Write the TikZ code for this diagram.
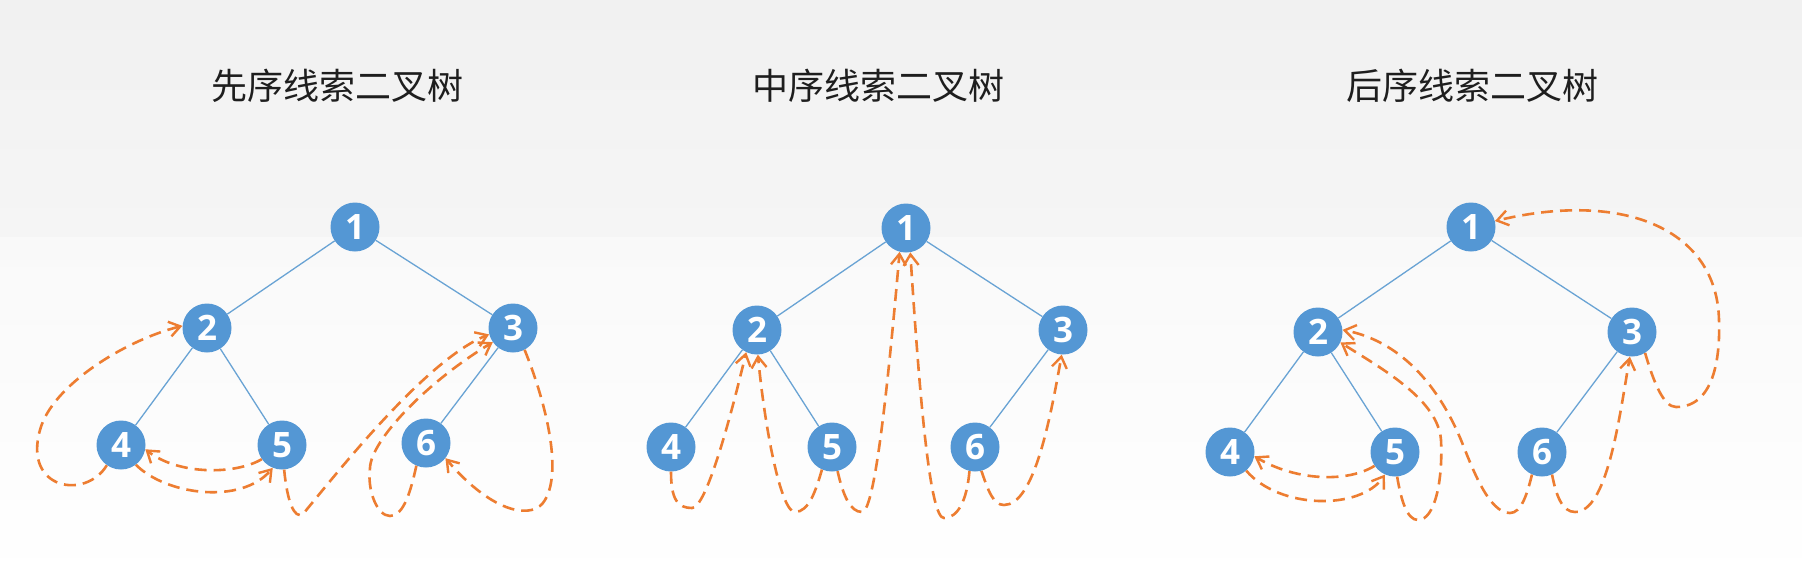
\documentclass[tikz,border=0pt]{standalone}
\usepackage{fontspec}
\newfontfamily\cjk{Noto Sans CJK SC}
\newfontfamily\numfont{Open Sans}
\usetikzlibrary{arrows.meta}
\definecolor{nodeblue}{RGB}{84,151,212}
\definecolor{treeline}{RGB}{105,163,212}
\definecolor{thread}{RGB}{237,125,49}
\definecolor{titlecol}{RGB}{30,30,30}
\definecolor{bgtop}{RGB}{241,241,241}
\definecolor{bgmid}{RGB}{245,245,245}
\definecolor{bglow}{RGB}{249,249,249}
\tikzset{
  tnode/.style={circle, fill=nodeblue, minimum size=49pt, inner sep=0pt,
    text=white, font=\numfont\bfseries\fontsize{35}{35}\selectfont},
  tedge/.style={draw=treeline, line width=1.3pt},
  thr/.style={draw=thread, line width=2.6pt, dash pattern=on 12pt off 7pt,
    -{Straight Barb[length=11pt,width=15pt,line width=2.4pt]}},
  ttl/.style={text=titlecol, font=\cjk\fontsize{36}{36}\selectfont, inner sep=0pt}
}
\begin{document}
\begin{tikzpicture}[x=1pt,y=-1pt]
\useasboundingbox (0,0) rectangle (1802,587);
\shade[top color=bgtop, bottom color=bgmid] (0,0) rectangle (1802,237);
\shade[top color=bglow, bottom color=white] (0,237) rectangle (1802,587);

% titles
\node[ttl] (t1) at (337,86) {先序线索二叉树};
\node[ttl] (t2) at (878,86) {中序线索二叉树};
\node[ttl] (t3) at (1472,86) {后序线索二叉树};

% ---------- panel 1: preorder ----------
\node[tnode] (a1) at (355,227) {1};
\node[tnode] (a2) at (207,328) {2};
\node[tnode] (a3) at (513,328) {3};
\node[tnode] (a4) at (121,445) {4};
\node[tnode] (a5) at (282,445) {5};
\node[tnode] (a6) at (426,443) {6};
\draw[tedge] (a1) -- (a2); \draw[tedge] (a1) -- (a3);
\draw[tedge] (a2) -- (a4); \draw[tedge] (a2) -- (a5);
\draw[tedge] (a3) -- (a6);

\draw[thr] (a4.-125) .. controls (86,500) and (23,490) .. (40,430)
  .. controls (52,385) and (126,340) .. (a2.175);
\draw[thr] (a4.-53) .. controls (166,495) and (241,505) .. (a5.-112);
\draw[thr] (a5.-145) .. controls (235,475) and (178,475) .. (a4.-10);
\draw[thr] (a5.-85) .. controls (287,500) and (294,520) .. (303,514)
  .. controls (333,478) and (425,360) .. (a3.-165);
\draw[thr] (a6.-113) .. controls (411,490) and (404,516) .. (390,516)
  .. controls (377,516) and (367,490) .. (370,468)
  .. controls (371,440) and (427,382) .. (a3.-145);
\draw[thr] (a3.-62) .. controls (545,400) and (563,470) .. (545,500)
  .. controls (534,520) and (494,515) .. (a6.-38);

% ---------- panel 2: inorder ----------
\node[tnode] (b1) at (906,228) {1};
\node[tnode] (b2) at (757,330) {2};
\node[tnode] (b3) at (1063,330) {3};
\node[tnode] (b4) at (671,447) {4};
\node[tnode] (b5) at (832,447) {5};
\node[tnode] (b6) at (975,447) {6};
\draw[tedge] (b1) -- (b2); \draw[tedge] (b1) -- (b3);
\draw[tedge] (b2) -- (b4); \draw[tedge] (b2) -- (b5);
\draw[tedge] (b3) -- (b6);

\draw[thr] (b4.-90) .. controls (671,500) and (678,508) .. (692,508)
  .. controls (706,508) and (730,420) .. (b2.-116);
\draw[thr] (b5.-114) .. controls (816,490) and (809,512) .. (795,512)
  .. controls (781,512) and (765,430) .. (b2.-88);
\draw[thr] (b5.-77) .. controls (843,495) and (850,512) .. (862,512)
  .. controls (873,512) and (885,420) .. (b1.-105);
\draw[thr] (b6.-103) .. controls (967,500) and (958,518) .. (944,518)
  .. controls (931,518) and (921,420) .. (b1.-80);
\draw[thr] (b6.-75) .. controls (988,490) and (993,505) .. (1004,505)
  .. controls (1034,505) and (1050,420) .. (b3.-93);

% ---------- panel 3: postorder ----------
\node[tnode] (c1) at (1471,227) {1};
\node[tnode] (c2) at (1318,332) {2};
\node[tnode] (c3) at (1632,332) {3};
\node[tnode] (c4) at (1230,452) {4};
\node[tnode] (c5) at (1395,452) {5};
\node[tnode] (c6) at (1542,452) {6};
\draw[tedge] (c1) -- (c2); \draw[tedge] (c1) -- (c3);
\draw[tedge] (c2) -- (c4); \draw[tedge] (c2) -- (c5);
\draw[tedge] (c3) -- (c6);

\draw[thr] (c4.-49) .. controls (1280,510) and (1361,510) .. (c5.-114);
\draw[thr] (c5.-146) .. controls (1349,482) and (1298,482) .. (c4.-10);
\draw[thr] (c5.-85) .. controls (1401,500) and (1407,520) .. (1418,520)
  .. controls (1435,520) and (1443,480) .. (1441,440)
  .. controls (1438,400) and (1384,370) .. (c2.-25);
\draw[thr] (c6.-114) .. controls (1527,495) and (1521,513) .. (1510,513)
  .. controls (1489,513) and (1473,470) .. (1461,440)
  .. controls (1450,414) and (1418,345) .. (c2.5);
\draw[thr] (c6.-66) .. controls (1556,495) and (1562,512) .. (1575,512)
  .. controls (1607,512) and (1619,420) .. (c3.-95);
\draw[thr] (c3.-58) .. controls (1653,380) and (1663,407) .. (1676,407)
  .. controls (1717,407) and (1720,350) .. (1719,320)
  .. controls (1717,230) and (1625,190) .. (c1.14);
\end{tikzpicture}
\end{document}
